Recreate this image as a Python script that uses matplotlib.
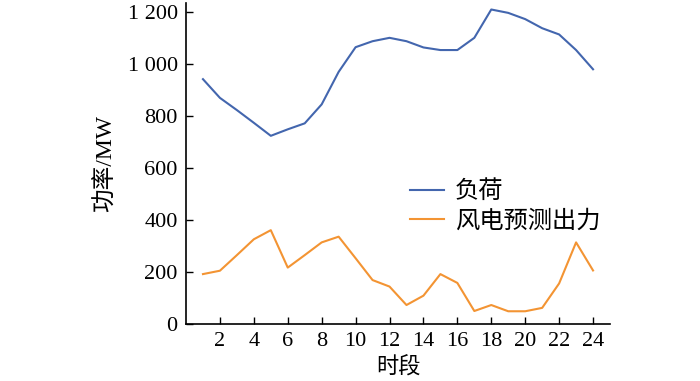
import matplotlib
matplotlib.use("Agg")
import matplotlib.pyplot as plt
from matplotlib.ticker import FuncFormatter

plt.rcParams['font.family'] = ['Liberation Serif', 'Noto Sans CJK SC']

hours = list(range(1, 25))
load = [942, 870, 823, 774, 724, 749, 772, 845, 970, 1065, 1088, 1101,
        1088, 1064, 1054, 1054, 1101, 1210, 1197, 1173, 1138, 1114, 1054, 980]
wind = [192, 205, 265, 326, 361, 217, 265, 314, 336, 253, 169, 144,
        73, 109, 192, 158, 50, 73, 49, 49, 62, 156, 314, 206]
xticks = list(range(2, 25, 2))
yticks = [0, 200, 400, 600, 800, 1000, 1200]

fig = plt.figure(figsize=[7, 3.81], dpi=100)
ax = fig.add_axes([186/700, 1 - 324/381, 424/700, 321/381])

ax.plot(hours, load, color="#4366ae", lw=1.5, label="负荷")
ax.plot(hours, wind, color="#f39433", lw=1.5, label="风电预测出力")

ax.set_xlim(0, 25)
ax.set_ylim(0, 1235)
ax.set_xticks(xticks)
ax.set_yticks(yticks)
ax.yaxis.set_major_formatter(FuncFormatter(lambda v, p: f"{int(v):,}".replace(",", " ")))
ax.tick_params(direction="in", length=5, width=1, labelsize=16, pad=6)
for s in ["top", "right"]:
    ax.spines[s].set_visible(False)
for s in ["left", "bottom"]:
    ax.spines[s].set_linewidth(1.2)

ax.set_xlabel("时段", fontsize=16, family=['Noto Sans CJK SC'], labelpad=3)
ax.set_ylabel("功率/MW", fontsize=17, labelpad=8)

ax.legend(loc="upper left", bbox_to_anchor=(0.505, 0.485), frameon=False,
          prop={'family': ['Noto Sans CJK SC'], 'size': 17.5},
          handlelength=1.4, handletextpad=0.45, labelspacing=0.15,
          borderaxespad=0)

fig.savefig("out.png", dpi=100)
